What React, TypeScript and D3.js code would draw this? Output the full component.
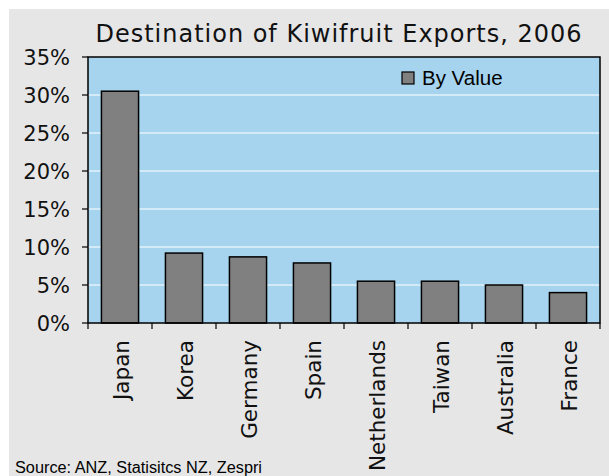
import React from "react";
import * as d3 from "d3";

const categories = ["Japan", "Korea", "Germany", "Spain", "Netherlands", "Taiwan", "Australia", "France"];
const byValue = [30.5, 9.2, 8.7, 7.9, 5.5, 5.5, 5.0, 4.0];
const yTicks = [0, 5, 10, 15, 20, 25, 30, 35];
const title = "Destination of Kiwifruit Exports, 2006";
const seriesName = "By Value";
const source = "Source: ANZ, Statisitcs NZ, Zespri";

const W = 609, H = 476;
const plot = { left: 88, top: 57, right: 600, bottom: 323 };

export default function App() {
  const x = d3.scaleBand<string>().domain(categories).range([plot.left, plot.right]).paddingInner(0.42).paddingOuter(0.21);
  const xb = d3.scaleBand<string>().domain(categories).range([plot.left, plot.right]);
  const y = d3.scaleLinear().domain([0, 35]).range([plot.bottom, plot.top]);
  const boundaries = [...categories.map((c) => xb(c)!), plot.right];
  return (
    <svg width={W} height={H} style={{ position: "absolute", left: 0, top: 0 }}>
      <rect x={0} y={0} width={W} height={H} fill="#ffffff" />
      <rect x={9} y={9} width={W - 9} height={H - 9} fill="#e6e6e6" />
      <text x={338.5} y={42} textAnchor="middle" fontFamily="DejaVu Sans" fontSize={24} fill="#111" textLength={486} lengthAdjust="spacing">{title}</text>
      <rect x={plot.left} y={plot.top} width={plot.right - plot.left} height={plot.bottom - plot.top} fill="#a6d4ef" />
      {yTicks.filter((t) => t > 0 && t < 35).map((t) => (
        <line key={t} x1={plot.left} x2={plot.right} y1={y(t)} y2={y(t)} stroke="#ffffff" strokeWidth={1} />
      ))}
      {categories.map((c, i) => (
        <rect key={c} x={x(c)} y={y(byValue[i])} width={x.bandwidth()} height={y(0) - y(byValue[i])} fill="#808080" stroke="#000" strokeWidth={1.5} />
      ))}
      <rect x={plot.left} y={plot.top} width={plot.right - plot.left} height={plot.bottom - plot.top} fill="none" stroke="#000" strokeWidth={1.5} />
      {yTicks.map((t) => (
        <g key={t}>
          <line x1={plot.left - 6} x2={plot.left} y1={y(t)} y2={y(t)} stroke="#000" strokeWidth={1.2} />
          <text x={70} y={y(t) + 7.5} textAnchor="end" fontFamily="DejaVu Sans" fontSize={21} fill="#111">{t}%</text>
        </g>
      ))}
      {boundaries.map((b, i) => (
        <line key={i} x1={b} x2={b} y1={plot.bottom} y2={plot.bottom + 6} stroke="#000" strokeWidth={1.2} />
      ))}
      {categories.map((c) => {
        const cx = xb(c)! + xb.bandwidth() / 2 + 9;
        const ty = 340;
        return (
          <text key={c} transform={`translate(${cx},${ty}) rotate(-90)`} textAnchor="end" fontFamily="DejaVu Sans" fontSize={21.5} fill="#111">{c}</text>
        );
      })}
      <rect x={402} y={72} width={12} height={12} fill="#808080" stroke="#000" strokeWidth={1.2} />
      <text x={422} y={85} fontFamily="Liberation Sans" fontSize={20.5} fill="#000">{seriesName}</text>
      <text x={15} y={473} fontFamily="Liberation Sans" fontSize={16} fill="#000" textLength={247} lengthAdjust="spacingAndGlyphs">{source}</text>
    </svg>
  );
}
